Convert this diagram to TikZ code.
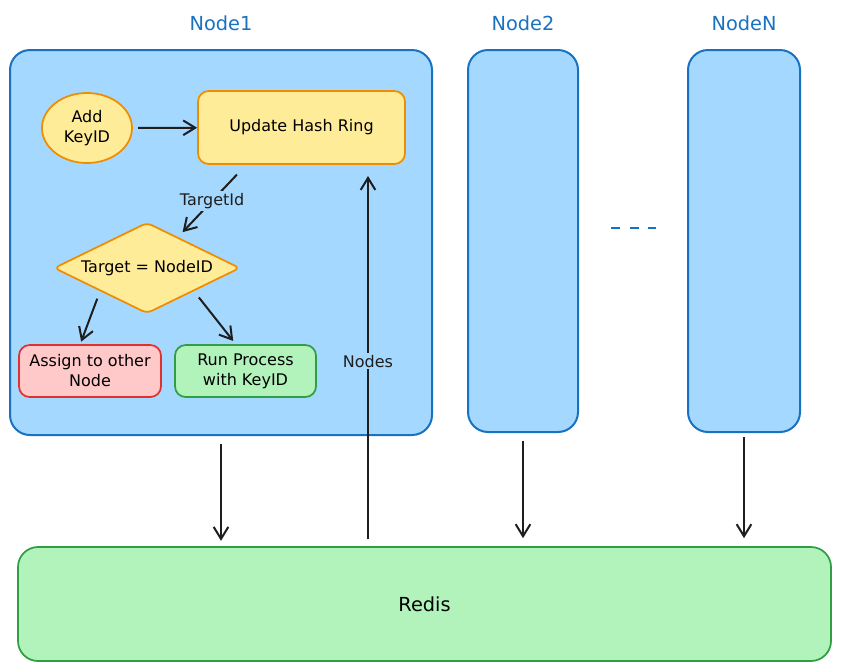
\documentclass[tikz,border=0pt]{standalone}
\usepackage{fontspec}
\setmainfont{DejaVu Sans}
\usepackage{tikz}
\usetikzlibrary{shapes,arrows.meta,positioning}

\definecolor{panelfill}{HTML}{A5D8FF}
\definecolor{panelline}{HTML}{1971C2}
\definecolor{yfill}{HTML}{FFEC99}
\definecolor{yline}{HTML}{F08C00}
\definecolor{rfill}{HTML}{FFC9C9}
\definecolor{rline}{HTML}{E03131}
\definecolor{gfill}{HTML}{B2F2BB}
\definecolor{gline}{HTML}{2F9E44}
\definecolor{ink}{HTML}{1E1E1E}

\begin{document}
\begin{tikzpicture}[
    x=0.75pt, y=-0.75pt,
    font=\fontsize{12}{15}\selectfont,
    panel/.style={rectangle, draw=panelline, fill=panelfill, rounded corners=15pt, line width=1.5pt},
    title/.style={text=panelline, font=\fontsize{14.5}{17}\selectfont},
    box/.style={rectangle, draw, rounded corners=8pt, line width=1.3pt, align=center, inner sep=2pt},
    arrow/.style={-{Straight Barb[length=9pt,width=11pt]}, line width=1.5pt, draw=ink},
    lbl/.style={fill=panelfill, inner sep=1.5pt, text=ink}
]
    \useasboundingbox (0,0) rectangle (841,669);

    % Paneles
    \node[panel, minimum width=316.5pt, minimum height=288.75pt] (n1) at (221,242.5) {};
    \node[panel, minimum width=82.5pt, minimum height=286.5pt] (n2) at (523,241) {};
    \node[panel, minimum width=84pt, minimum height=286.5pt] (nN) at (744,241) {};
    \node[box, draw=gline, fill=gfill, rounded corners=15pt, minimum width=609.75pt, minimum height=85.5pt,
          font=\fontsize{14.5}{17}\selectfont] (redis) at (424.5,604) {Redis};

    \node[title, above=10pt of n1] (t1) {Node1};
    \node[title, above=10pt of n2] (t2) {Node2};
    \node[title, above=10pt of nN] (tN) {NodeN};

    % Nodos
    \node[ellipse, draw=yline, fill=yfill, line width=1.3pt, align=center, inner sep=0pt,
          minimum width=67.5pt, minimum height=52.5pt] (add) at (87,128) {Add\\KeyID};
    \node[box, draw=yline, fill=yfill, minimum width=155.25pt, minimum height=54.75pt] (upd) at (301.5,127.5) {Update Hash Ring};
    \node[diamond, aspect=2, draw=yline, fill=yfill, line width=1.3pt, inner sep=0pt, rounded corners=4pt,
          minimum width=139.5pt, minimum height=68.25pt] (dia) at (147,268) {Target = NodeID};
    \node[box, draw=rline, fill=rfill, minimum width=106.5pt, minimum height=39pt] (asg) at (90,371) {Assign to other\\Node};
    \node[box, draw=gline, fill=gfill, minimum width=105.75pt, minimum height=39pt] (run) at (245.5,371) {Run Process\\with KeyID};
    \coordinate (ring) at (368,176);

    % Flechas
    \draw[arrow, shorten <=4pt] (add) -- (upd);
    \draw[arrow, shorten <=10pt, shorten >=5pt] (upd.214) -- node[lbl] {TargetId} (dia.45);
    \draw[arrow, shorten <=6pt, shorten >=2pt] (dia.south west) -- (asg.110);
    \draw[arrow, shorten <=6pt, shorten >=3pt] (dia.south east) -- (run.110);
    \draw[arrow, shorten <=5pt] (redis.north -| ring) -- node[lbl] {Nodes} (ring);
    \draw[arrow, shorten <=6pt, shorten >=4pt] (n1.south) -- (n1.south |- redis.north);
    \draw[arrow, shorten <=6pt, shorten >=6pt] (n2.south) -- (n2.south |- redis.north);
    \draw[arrow, shorten <=3pt, shorten >=6pt] (nN.south) -- (nN.south |- redis.north);
    \draw[panelline, dashed, dash pattern=on 7pt off 7pt, line width=1.4pt, shorten <=24pt, shorten >=23pt]
        ([yshift=10pt]n2.east) -- ([yshift=10pt]nN.west);
\end{tikzpicture}
\end{document}
